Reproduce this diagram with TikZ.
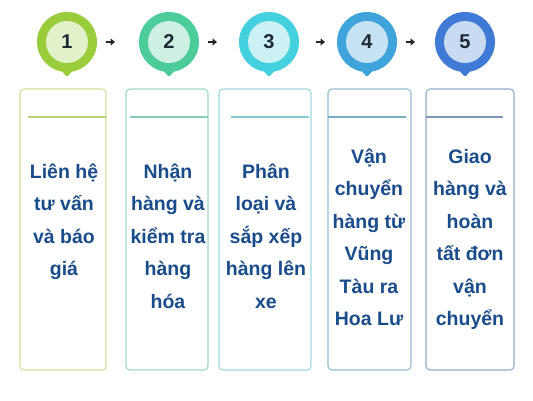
\documentclass[tikz,border=0pt]{standalone}
\usepackage{fontspec}
\setmainfont{Liberation Sans}
\usetikzlibrary{arrows.meta}
\definecolor{txt}{HTML}{1A4C8C}
\definecolor{num}{HTML}{1F2A36}
\definecolor{poA}{HTML}{9ACD3C}\definecolor{piA}{HTML}{E3F1CB}
\definecolor{poB}{HTML}{4CCC9A}\definecolor{piB}{HTML}{CDF0E2}
\definecolor{poC}{HTML}{45D0DF}\definecolor{piC}{HTML}{CCF1F5}
\definecolor{poD}{HTML}{3FA3DC}\definecolor{piD}{HTML}{C6E2F5}
\definecolor{poE}{HTML}{3F7BD6}\definecolor{piE}{HTML}{C9DAF3}
\definecolor{bA}{HTML}{CFDF9A}\definecolor{lA}{HTML}{B8D07A}
\definecolor{bB}{HTML}{9FD9C8}\definecolor{lB}{HTML}{86CDB8}
\definecolor{bC}{HTML}{9FD8DF}\definecolor{lC}{HTML}{84CCD6}
\definecolor{bD}{HTML}{95BFD3}\definecolor{lD}{HTML}{7AAEC6}
\definecolor{bE}{HTML}{93ADC9}\definecolor{lE}{HTML}{7A97B8}
\tikzset{
  card/.style={draw=#1, line width=1.1pt, rounded corners=4pt, fill=white},
  sep/.style={draw=#1, line width=1.3pt},
  cardtext/.style={anchor=north, inner sep=0pt, align=center, text=txt,
    font=\fontsize{19.5}{32.5}\selectfont\bfseries},
  numtext/.style={text=num, font=\fontsize{20}{22}\selectfont\bfseries},
  stepper/.style={-{Triangle[length=4.5pt,width=7pt]}, line width=2.4pt, draw=black!85},
}
\newcommand{\mypin}[4]{%
  \fill[#2, rounded corners=1.5pt] (#1-9,67) -- (#1,77) -- (#1+9,67) -- cycle;
  \fill[#2] (#1,42) circle[radius=30];
  \fill[#3] (#1,42) circle[radius=21];
  \node[numtext] (n#4) at (#1,42) {#4};
}
\begin{document}
\begin{tikzpicture}[x=1pt,y=-1pt]
\useasboundingbox (0,0) rectangle (533,400);
\fill[white] (0,0) rectangle (533,400);
% pins
\mypin{67}{poA}{piA}{1}
\mypin{169}{poB}{piB}{2}
\mypin{269}{poC}{piC}{3}
\mypin{367}{poD}{piD}{4}
\mypin{465}{poE}{piE}{5}
% small arrows
\coordinate (a1s) at (106,42); \coordinate (a1e) at (115,42);
\coordinate (a2s) at (208,42); \coordinate (a2e) at (217,42);
\coordinate (a3s) at (316,42); \coordinate (a3e) at (325,42);
\coordinate (a4s) at (406,42); \coordinate (a4e) at (415,42);
\draw[stepper] (a1s) -- (a1e);
\draw[stepper] (a2s) -- (a2e);
\draw[stepper] (a3s) -- (a3e);
\draw[stepper] (a4s) -- (a4e);
% cards
\draw[card=bA] (20,89) rectangle (106,370);
\draw[sep=lA] (28,117) -- (106,117);
\draw[card=bB] (126,89) rectangle (208,370);
\draw[sep=lB] (130,117) -- (208,117);
\draw[card=bC] (219,89) rectangle (311,370);
\draw[sep=lC] (231,117) -- (309,117);
\draw[card=bD] (328,89) rectangle (411,370);
\draw[sep=lD] (328,117) -- (406,117);
\draw[card=bE] (426,89) rectangle (514,370);
\draw[sep=lE] (426,117) -- (503,117);
% texts
\node[cardtext] (t1) at (64,155.25) {\strut Liên hệ\\\strut tư vấn\\\strut và báo\\\strut giá};
\node[cardtext] (t2) at (168,155.25) {\strut Nhận\\\strut hàng và\\\strut kiểm tra\\\strut hàng\\\strut hóa};
\node[cardtext] (t3) at (266,155.25) {\strut Phân\\\strut loại và\\\strut sắp xếp\\\strut hàng lên\\\strut xe};
\node[cardtext] (t4) at (369,140.25) {\strut Vận\\\strut chuyển\\\strut hàng từ\\\strut Vũng\\\strut Tàu ra\\\strut Hoa Lư};
\node[cardtext] (t5) at (470,140.25) {\strut Giao\\\strut hàng và\\\strut hoàn\\\strut tất đơn\\\strut vận\\\strut chuyển};
\end{tikzpicture}
\end{document}
